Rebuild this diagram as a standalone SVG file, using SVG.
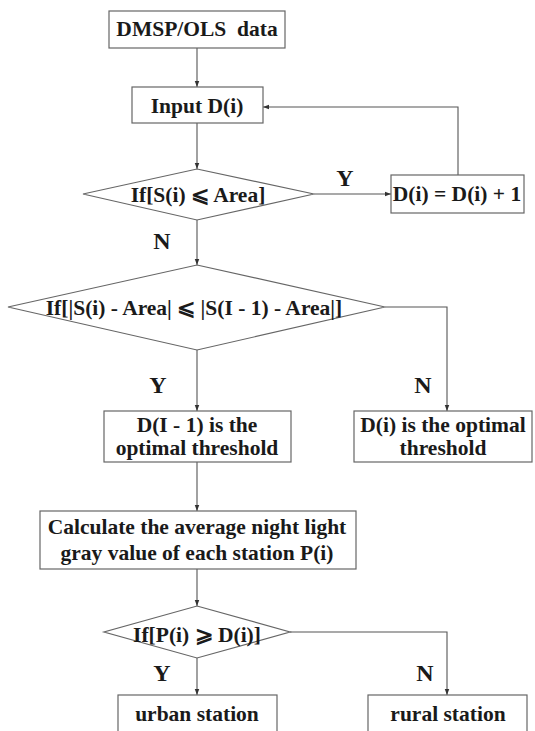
<svg xmlns="http://www.w3.org/2000/svg" width="535" height="731" viewBox="0 0 535 731">
<defs>
<marker id="ah" viewBox="0 0 8 8" refX="8" refY="4" markerWidth="6" markerHeight="6" orient="auto" markerUnits="userSpaceOnUse">
<path d="M0,1 L8,4 L0,7 Z" fill="#333"/>
</marker>
<style>
.box{fill:#fff;stroke:#666;stroke-width:1.2}
.t{font-weight:bold;font-size:21.5px;fill:#1a1a1a;text-anchor:middle}
.l{font-weight:bold;font-size:24px;fill:#1a1a1a;text-anchor:middle}
.c{fill:none;stroke:#555;stroke-width:1.1}
</style>
</defs>
<rect width="535" height="731" fill="#fff"/>
<g font-family="Liberation Serif, DejaVu Serif, serif">
<g id="connectors">
<line class="c" x1="197" y1="48" x2="197" y2="87" marker-end="url(#ah)"/>
<line class="c" x1="197" y1="123" x2="197" y2="169" marker-end="url(#ah)"/>
<line class="c" x1="314" y1="194" x2="391" y2="194" marker-end="url(#ah)"/>
<polyline class="c" points="458,175 458,107 263,107" marker-end="url(#ah)"/>
<line class="c" x1="197" y1="220" x2="197" y2="265" marker-end="url(#ah)"/>
<line class="c" x1="197" y1="350" x2="197" y2="411" marker-end="url(#ah)"/>
<polyline class="c" points="385,307 447,307 447,411" marker-end="url(#ah)"/>
<line class="c" x1="197" y1="462" x2="197" y2="511" marker-end="url(#ah)"/>
<line class="c" x1="197" y1="569" x2="197" y2="606" marker-end="url(#ah)"/>
<line class="c" x1="197" y1="658" x2="197" y2="695" marker-end="url(#ah)"/>
<polyline class="c" points="290,632 447,632 447,695" marker-end="url(#ah)"/>
<text class="l" x="345" y="186">Y</text>
<text class="l" x="162" y="249">N</text>
<text class="l" x="158" y="393">Y</text>
<text class="l" x="423" y="393">N</text>
<text class="l" x="162" y="681">Y</text>
<text class="l" x="425" y="681">N</text>
</g>
<g id="n1">
<rect class="box" x="109" y="11" width="176" height="37"/>
<text class="t" x="197" y="36" xml:space="preserve">DMSP/OLS  data</text>
</g>
<g id="n2">
<rect class="box" x="132" y="87" width="131" height="36"/>
<text class="t" x="197" y="113">Input D(i)</text>
</g>
<g id="n3">
<polygon class="box" points="197,169 314,194 197,220 83,194"/>
<text class="t" x="198" y="202">If[S(i) ⩽ Area]</text>
</g>
<g id="n4">
<rect class="box" x="391" y="175" width="133" height="38"/>
<text class="t" x="457" y="201">D(i) = D(i) + 1</text>
</g>
<g id="n5">
<polygon class="box" points="197,265 385,307 197,350 8,307"/>
<text class="t" x="194" y="315">If[|S(i) - Area| ⩽ |S(I - 1) - Area|]</text>
</g>
<g id="n6">
<rect class="box" x="104" y="411" width="187" height="51"/>
<text class="t" x="197" y="432">D(I - 1) is the</text>
<text class="t" x="197" y="455">optimal threshold</text>
</g>
<g id="n7">
<rect class="box" x="354" y="411" width="178" height="51"/>
<text class="t" x="443" y="432">D(i) is the optimal</text>
<text class="t" x="443" y="455">threshold</text>
</g>
<g id="n8">
<rect class="box" x="40" y="511" width="316" height="58"/>
<text class="t" x="197" y="534">Calculate the average night light</text>
<text class="t" x="197" y="560">gray value of each station P(i)</text>
</g>
<g id="n9">
<polygon class="box" points="197,606 290,632 197,658 104,632"/>
<text class="t" x="197" y="642">If[P(i) ⩾ D(i)]</text>
</g>
<g id="n10">
<rect class="box" x="118" y="695" width="159" height="50"/>
<text class="t" x="197" y="721">urban station</text>
</g>
<g id="n11">
<rect class="box" x="368" y="695" width="159" height="50"/>
<text class="t" x="448" y="721">rural station</text>
</g>
</g>
</svg>
